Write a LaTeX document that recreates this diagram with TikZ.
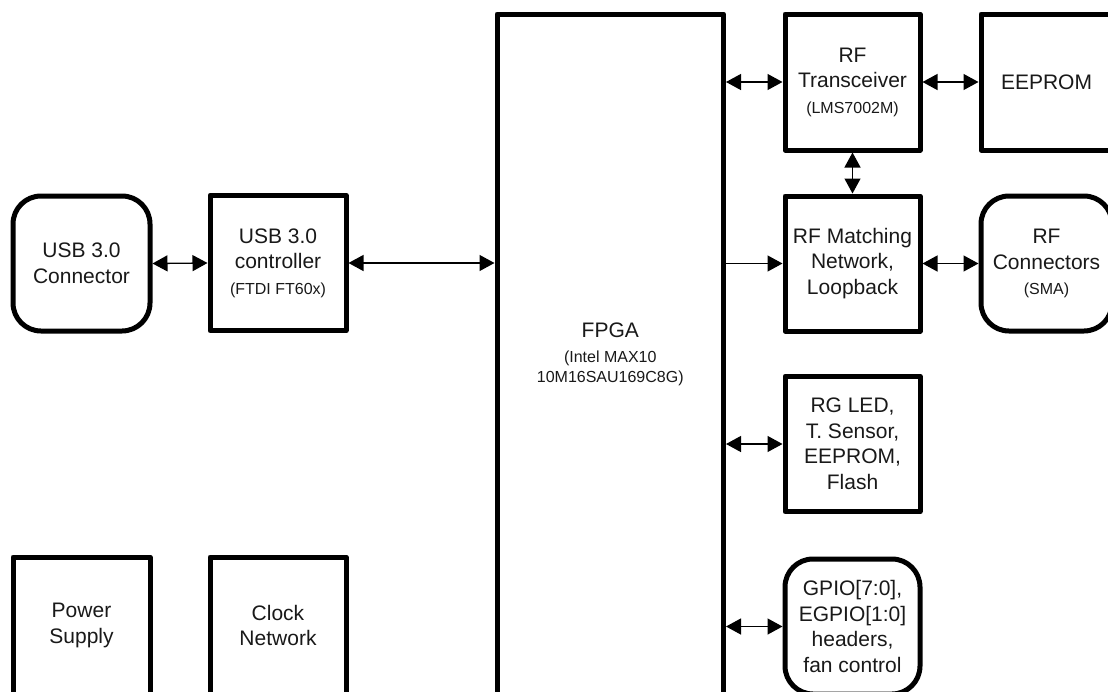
\documentclass[tikz,border=0pt]{standalone}
\usepackage{fontspec}
\setmainfont{Liberation Sans}
\usetikzlibrary{arrows.meta}
\newcommand{\sm}[1]{{\fontsize{16}{19}\selectfont #1}}
\begin{document}
\begin{tikzpicture}[x=1pt,y=-1pt,
  box/.style={draw=black, line width=5pt, line join=round, fill=white, align=center,
    inner sep=0pt, font=\fontsize{21}{25.5}\selectfont, text=black!90},
  rbox/.style={box, rounded corners=28pt},
  link/.style={line width=1.3pt, {Triangle[length=15pt,width=16pt]}-{Triangle[length=15pt,width=16pt]}},
  olink/.style={line width=1.3pt, -{Triangle[length=15pt,width=16pt]}}]
\useasboundingbox (0,0) rectangle (1108,691);
\fill[white] (0,0) rectangle (1108,691);
% left column
\node[rbox, minimum width=137pt, minimum height=135pt] (usbc) at (81.5,263.5) {USB 3.0\\Connector};
\node[box, minimum width=136pt, minimum height=135.5pt] (usbctl) at (278,263) {USB 3.0\\controller\\\sm{(FTDI FT60x)}};
\node[box, minimum width=137pt, minimum height=137pt] (pwr) at (81.5,625.5) {Power\\Supply};
\node[box, minimum width=136pt, minimum height=137pt] (clk) at (278,625.5) {Clock\\Network};
% FPGA
\node[box, minimum width=226.5pt, minimum height=680pt] (fpga) at (610.25,354) {FPGA\\\sm{(Intel MAX10}\\[-6pt]\sm{10M16SAU169C8G)}};
% right column
\node[box, minimum width=135pt, minimum height=136pt] (rftr) at (852.5,82) {RF\\Transceiver\\\sm{(LMS7002M)}};
\node[box, minimum width=131pt, minimum height=136pt] (eeprom) at (1046.5,82) {EEPROM};
\node[box, minimum width=135pt, minimum height=135pt] (rfm) at (852.5,263.5) {RF Matching\\Network,\\Loopback};
\node[rbox, minimum width=131pt, minimum height=135pt] (rfc) at (1046.5,263.5) {RF\\Connectors\\\sm{(SMA)}};
\node[box, minimum width=135pt, minimum height=135.5pt] (rgled) at (852.5,444) {RG LED,\\T. Sensor,\\EEPROM,\\Flash};
\node[rbox, minimum width=135pt, minimum height=135pt] (gpio) at (852.5,626.5) {GPIO[7:0],\\EGPIO[1:0]\\headers,\\fan control};
% connectors
\draw[link] (usbc.east) -- (usbctl.west);
\draw[link] (usbctl.east) -- (usbctl.east -| fpga.west);
\draw[link] (fpga.east |- rftr.west) -- (rftr.west);
\draw[link] (rftr.east) -- (eeprom.west);
\draw[link] (rftr.south) -- (rfm.north);
\draw[olink] (fpga.east |- rfm.west) -- (rfm.west);
\draw[link] (rfm.east) -- (rfc.west);
\draw[link] (fpga.east |- rgled.west) -- (rgled.west);
\draw[link] (fpga.east |- gpio.west) -- (gpio.west);
\end{tikzpicture}
\end{document}
